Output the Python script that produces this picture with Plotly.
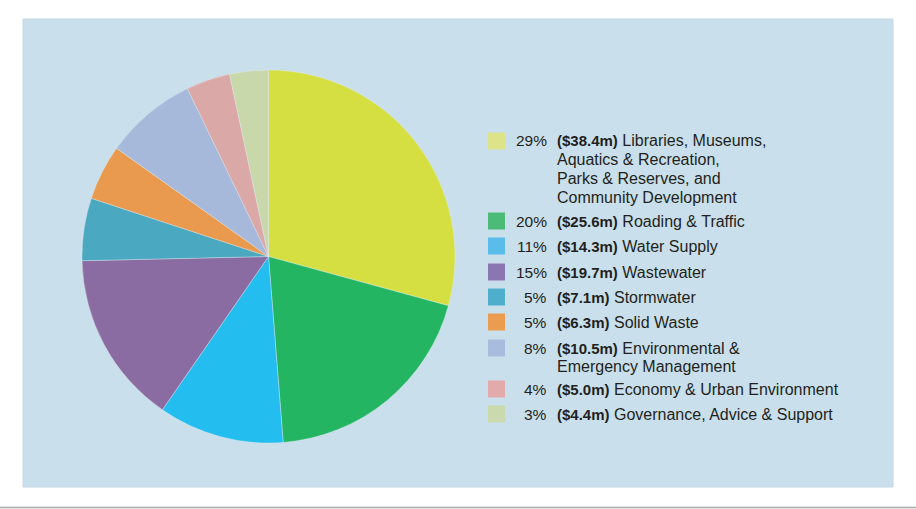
import plotly.graph_objects as go

W, H = 916, 509

categories = [
    "Libraries, Museums,<br>Aquatics & Recreation,<br>Parks & Reserves, and<br>Community Development",
    "Roading & Traffic",
    "Water Supply",
    "Wastewater",
    "Stormwater",
    "Solid Waste",
    "Environmental &<br>Emergency Management",
    "Economy & Urban Environment",
    "Governance, Advice & Support",
]
values_m = [38.4, 25.6, 14.3, 19.7, 7.1, 6.3, 10.5, 5.0, 4.4]
pct_labels = ["29%", "20%", "11%", "15%", "5%", "5%", "8%", "4%", "3%"]

slice_colors = ["#d5df42", "#24b562", "#23bdef", "#8a6ca2", "#4ba8c1",
                "#ea9a4e", "#a6b9da", "#dba8a8", "#c9d8ab"]
legend_colors = ["#dce388", "#4dbb78", "#5abce8", "#8a76b0", "#4eaecc",
                 "#eb9c50", "#a8bcdd", "#e2aaab", "#cbdaae"]
row_centers_px = [141, 221, 246, 272, 297, 322, 348, 389, 414]
LINE_STEP = 18.7

def px_x(x):
    return x / W

def px_y(y):
    return 1 - y / H

fig = go.Figure()
fig.add_trace(go.Pie(
    values=values_m,
    labels=[c.replace("<br>", " ") for c in categories],
    sort=False,
    direction="clockwise",
    rotation=0,
    textinfo="none",
    hoverinfo="label+value",
    marker=dict(colors=slice_colors, line=dict(color="rgba(230,240,245,0.6)", width=0.6)),
    domain=dict(x=[px_x(82), px_x(455)], y=[px_y(443), px_y(70)]),
    showlegend=False,
))

shapes = [
    dict(type="rect", xref="paper", yref="paper",
         x0=px_x(23), x1=px_x(893), y0=px_y(487), y1=px_y(19),
         fillcolor="#c9dfeb", line=dict(color="#c2d8e4", width=1), layer="below"),
    dict(type="line", xref="paper", yref="paper",
         x0=0, x1=1, y0=px_y(507.5), y1=px_y(507.5),
         line=dict(color="#a8a8a8", width=1.5)),
]
annotations = []
font = dict(family="Liberation Sans, Arial", size=16, color="#231f20")
pct_font = dict(family="Liberation Sans, Arial", size=15.5, color="#231f20")
for i, cat in enumerate(categories):
    yc = row_centers_px[i]
    shapes.append(dict(type="rect", xref="paper", yref="paper",
                       x0=px_x(488), x1=px_x(505), y0=px_y(yc + 8.5), y1=px_y(yc - 8.5),
                       fillcolor=legend_colors[i], line=dict(width=0)))
    annotations.append(dict(xref="paper", yref="paper", x=px_x(549), y=px_y(yc),
                            xanchor="right", yanchor="middle", showarrow=False,
                            text=pct_labels[i], font=pct_font, align="right"))
    lines = cat.split("<br>")
    for j, ln in enumerate(lines):
        txt = (f"<b style='font-size:15px'>(${values_m[i]:.1f}m)</b> " + ln) if j == 0 else ln
        annotations.append(dict(xref="paper", yref="paper", x=px_x(555),
                                y=px_y(yc + j * LINE_STEP),
                                xanchor="left", yanchor="middle", showarrow=False,
                                text=txt, font=font, align="left"))

fig.update_layout(
    width=W, height=H,
    margin=dict(l=0, r=0, t=0, b=0),
    paper_bgcolor="#ffffff",
    plot_bgcolor="#ffffff",
    shapes=shapes,
    annotations=annotations,
)
fig.write_html("out.html")
